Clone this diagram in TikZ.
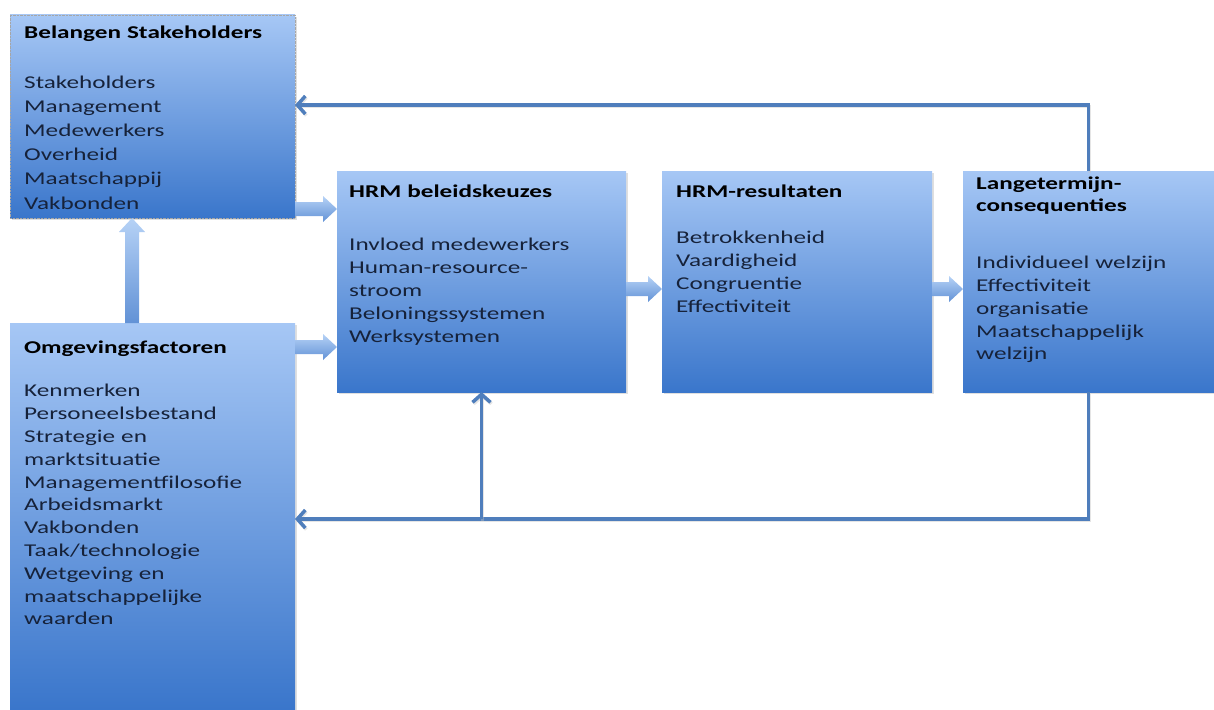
\documentclass[tikz,border=0pt]{standalone}
\usepackage{fontspec}
\setmainfont[FakeStretch=1.4]{Carlito}
\usetikzlibrary{arrows.meta,calc,shadows}

\definecolor{boxtop}{RGB}{166,199,245}
\definecolor{boxbot}{RGB}{58,118,203}
\definecolor{arrtop}{RGB}{182,210,246}
\definecolor{arrbot}{RGB}{98,146,214}
\definecolor{linec}{RGB}{79,126,188}
\definecolor{ink}{RGB}{22,34,58}

% horizontal block arrow: #1 start, #2 tip (same height)
\newcommand{\hblock}[2]{%
  \shade[blockfill] ($(#1)+(0,-7)$) -- ($(#2)+(-14,-7)$) -- ($(#2)+(-14,-13)$)
    -- (#2) -- ($(#2)+(-14,13)$) -- ($(#2)+(-14,7)$) -- ($(#1)+(0,7)$) -- cycle;}
% upward block arrow: #1 start (bottom), #2 tip (top)
\newcommand{\vblock}[2]{%
  \shade[blockfill] ($(#1)+(-7,0)$) -- ($(#2)+(-7,14)$) -- ($(#2)+(-13,14)$)
    -- (#2) -- ($(#2)+(13,14)$) -- ($(#2)+(7,14)$) -- ($(#1)+(7,0)$) -- cycle;}

\tikzset{
  box/.style={rectangle, anchor=north west, inner sep=0pt, outer sep=0pt,
    top color=boxtop, bottom color=boxbot,
    drop shadow={shadow xshift=1.5pt, shadow yshift=-2pt, opacity=0.25}},
  txt/.style={anchor=base west, inner sep=0pt, text width=330pt, align=left,
    text=ink, font=\fontsize{18}{22.8}\selectfont},
  conn/.style={draw=linec, line width=3.5pt,
    -{Straight Barb[length=8pt,width=18pt]},
    preaction={draw=black!25, line width=3.5pt, opacity=0.4,
      transform canvas={xshift=1pt, yshift=-1.5pt}}},
  blockfill/.style={top color=arrtop, bottom color=arrbot, draw=none}
}

\begin{document}
\begin{tikzpicture}[x=1pt,y=-1pt]
\useasboundingbox (0,0) rectangle (1214,709);

% boxes
\node[box, minimum width=285pt, minimum height=203pt,
      draw=gray!70, densely dotted, thin] (stake) at (10,15) {};
\node[box, minimum width=285pt, minimum height=386pt] (omg) at (10,323) {};
\node[box, minimum width=289pt, minimum height=221pt] (hrm) at (337,171) {};
\node[box, minimum width=270pt, minimum height=221pt] (res) at (662,171) {};
\node[box, minimum width=251pt, minimum height=221pt] (lang) at (963,171) {};

% box texts
\node[txt, font=\fontsize{18}{24.2}\selectfont] (stakeT) at (24,39)
  {\textcolor{black}{\textbf{Belangen Stakeholders}}\\[24.8pt]
   Stakeholders\\ Management\\ Medewerkers\\ Overheid\\ Maatschappij\\ Vakbonden};
\node[txt] (omgT) at (24,353)
  {\textcolor{black}{\textbf{Omgevingsfactoren}}\\[21pt]
   Kenmerken\\ Personeelsbestand\\ Strategie en\\ marktsituatie\\
   Managementfilosofie\\ Arbeidsmarkt\\ Vakbonden\\ Taak/technologie\\
   Wetgeving en\\ maatschappelijke\\ waarden};
\node[txt] (hrmT) at (349,197)
  {\textcolor{black}{\textbf{HRM beleidskeuzes}}\\[31pt]
   Invloed medewerkers\\ Human-resource-\\ stroom\\ Beloningssystemen\\ Werksystemen};
\node[txt] (resT) at (676,197)
  {\textcolor{black}{\textbf{HRM-resultaten}}\\[24pt]
   Betrokkenheid\\ Vaardigheid\\ Congruentie\\ Effectiviteit};
\node[txt] (langT) at (976,189)
  {\textcolor{black}{\textbf{Langetermijn-}}\\
   \textcolor{black}{\textbf{consequenties}}\\[34pt]
   Individueel welzijn\\ Effectiviteit\\ organisatie\\ Maatschappelijk\\ welzijn};

% reference heights for the connectors
\coordinate (y1) at (0,209);
\coordinate (y2) at (0,347);
\coordinate (y3) at (0,289);
\coordinate (xv) at (132,0);
\coordinate (ytop) at (0,105);
\coordinate (ybot) at (0,519);

% block arrows
\hblock{stake.east |- y1}{hrm.west |- y1}
\hblock{omg.east |- y2}{hrm.west |- y2}
\hblock{hrm.east |- y3}{res.west |- y3}
\hblock{res.east |- y3}{lang.west |- y3}
\vblock{xv |- omg.north}{xv |- stake.south}

% feedback lines
\draw[conn] (lang.north) |- (stake.east |- ytop);
\draw[conn] (lang.south) |- (omg.east |- ybot);
\draw[conn] (hrm.south |- ybot) -- (hrm.south);
\end{tikzpicture}
\end{document}
